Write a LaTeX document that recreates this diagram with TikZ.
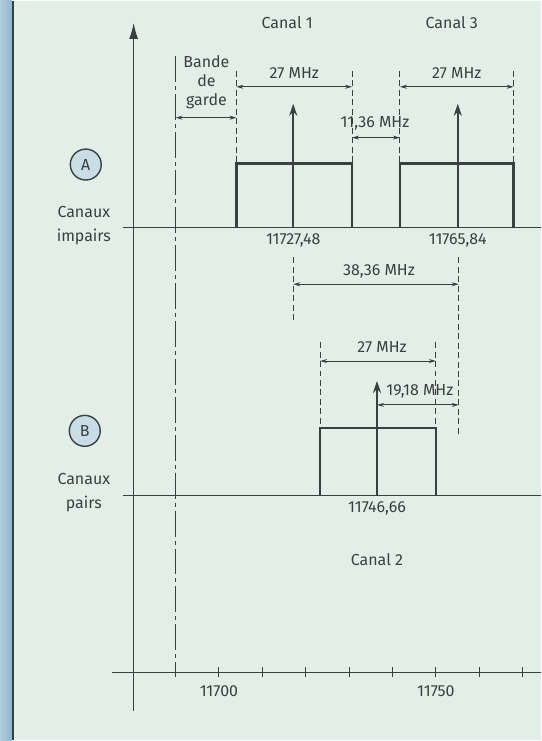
\documentclass[tikz,border=0pt]{standalone}
\usepackage{fontspec}
\setmainfont{Fira Sans}
\usetikzlibrary{arrows.meta}
\definecolor{fond}{HTML}{E3EEE9}
\definecolor{encre}{HTML}{3A403D}
\definecolor{bleu}{HTML}{8FB6CF}
\definecolor{pastille}{HTML}{C8DDE5}
\tikzset{
  cote/.style={<->, line width=0.9pt},
  rappel/.style={line width=0.9pt, dash pattern=on 6pt off 3.5pt},
  mixte/.style={line width=1pt, dash pattern=on 26pt off 4pt on 4pt off 4pt},
  boite/.style={line width=2.4pt, line join=miter},
  porteuse/.style={-{Stealth[length=12pt,width=8pt]}, line width=1.8pt},
  lettre/.style={circle, draw, line width=1.4pt, fill=pastille, minimum size=31pt, inner sep=0pt},
  legende/.style={align=center, font=\fontsize{16}{24}\selectfont}
}
\begin{document}
\begin{tikzpicture}[x=1pt,y=-1pt, >={Stealth[length=7pt,width=4pt]}, font=\fontsize{16}{19}\selectfont, line join=round, encre, text=encre]
	\def\ya{227} \def\yb{496} \def\yf{673} % lignes de base
	\def\xA{294} \def\xB{378} \def\xC{459} % porteuses
	\fill[fond] (0,0) rectangle (542,741);
	\shade[left color=bleu!70, right color=bleu] (0,0) rectangle (12,741);
	\draw[line width=2pt] (13,0) -- (13,741);
	% axes
	\coordinate (O) at (134,712);
	\coordinate (Oh) at (134,22);
	\draw[line width=1.3pt, -{Latex[length=16pt,width=9pt]}] (O) -- (Oh);
	\draw[line width=1.1pt] (123,\ya) -- (542,\ya);
	\draw[line width=1.1pt] (123,\yb) -- (542,\yb);
	\draw[line width=1.1pt] (112,\yf) -- (542,\yf);
	\foreach \i in {0,...,8} \draw[line width=1.1pt] (176+43.5*\i,668) -- ++(0,10);
	\node (f1) at (219.5,692) {11700};
	\node (f2) at (437,692) {11750};
	\draw[mixte] (176,55) -- (176,\yf);
	% canaux impairs
	\node (A) at (86,164) [lettre] {A};
	\node (impairs) at (84,225) [legende] {Canaux\\impairs};
	\node (can1) at (288,22) {Canal 1};
	\node (can3) at (453,22) {Canal 3};
	\node (garde) at (207,81) [align=center, font=\fontsize{16}{19}\selectfont] {Bande\\de\\garde};
	\draw[boite] (237,\ya) |- (353,163) -- (353,\ya);
	\draw[boite] (401,\ya) |- (515,163) -- (515,\ya);
	\foreach \x in {237,353,401,515} \draw[rappel] (\x,70) -- (\x,163);
	\draw[porteuse] (\xA,\ya) -- (\xA,103);
	\draw[porteuse] (\xC,\ya) -- (\xC,103);
	\coordinate (g1) at (176,117); \coordinate (g2) at (237,117);
	\draw[cote] (g1) -- (g2);
	\coordinate (l1) at (237,86); \coordinate (l2) at (353,86);
	\draw[cote] (l1) -- (l2);
	\node (b1) at (295,72) {27 MHz};
	\coordinate (l3) at (401,86); \coordinate (l4) at (515,86);
	\draw[cote] (l3) -- (l4);
	\node (b3) at (458,72) {27 MHz};
	\coordinate (e1) at (353,137); \coordinate (e2) at (401,137);
	\draw[cote] (e1) -- (e2);
	\node (ecart) at (376,123) {11,36 MHz};
	\node (p1) at (\xA,240) {11727,48};
	\node (p3) at (\xC,240) {11765,84};
	% canaux pairs
	\draw[rappel] (\xA,257) -- (\xA,321);
	\draw[rappel] (\xC+1,257) -- (\xC+1,436);
	\coordinate (d1) at (\xA,284); \coordinate (d2) at (\xC+1,284);
	\draw[cote] (d1) -- (d2);
	\node (pas) at (380,271) {38,36 MHz};
	\node (B) at (85,431) [lettre] {B};
	\node (pairs) at (84,493) [legende] {Canaux\\pairs};
	\draw[boite] (321,\yb) |- (437,428) -- (437,\yb);
	\foreach \x in {321,437} \draw[rappel] (\x,342) -- (\x,428);
	\coordinate (m1) at (321,361); \coordinate (m2) at (437,361);
	\draw[cote] (m1) -- (m2);
	\node (b2) at (383,347) {27 MHz};
	\draw[porteuse] (\xB,\yb) -- (\xB,381);
	\coordinate (h1) at (\xB,405); \coordinate (h2) at (\xC+1,405);
	\draw[cote] (h1) -- (h2);
	\node (demi) at (421,391) {19,18 MHz};
	\node (p2) at (\xB,509) {11746,66};
	\node (can2) at (\xB,560) {Canal 2};
\end{tikzpicture}
\end{document}
